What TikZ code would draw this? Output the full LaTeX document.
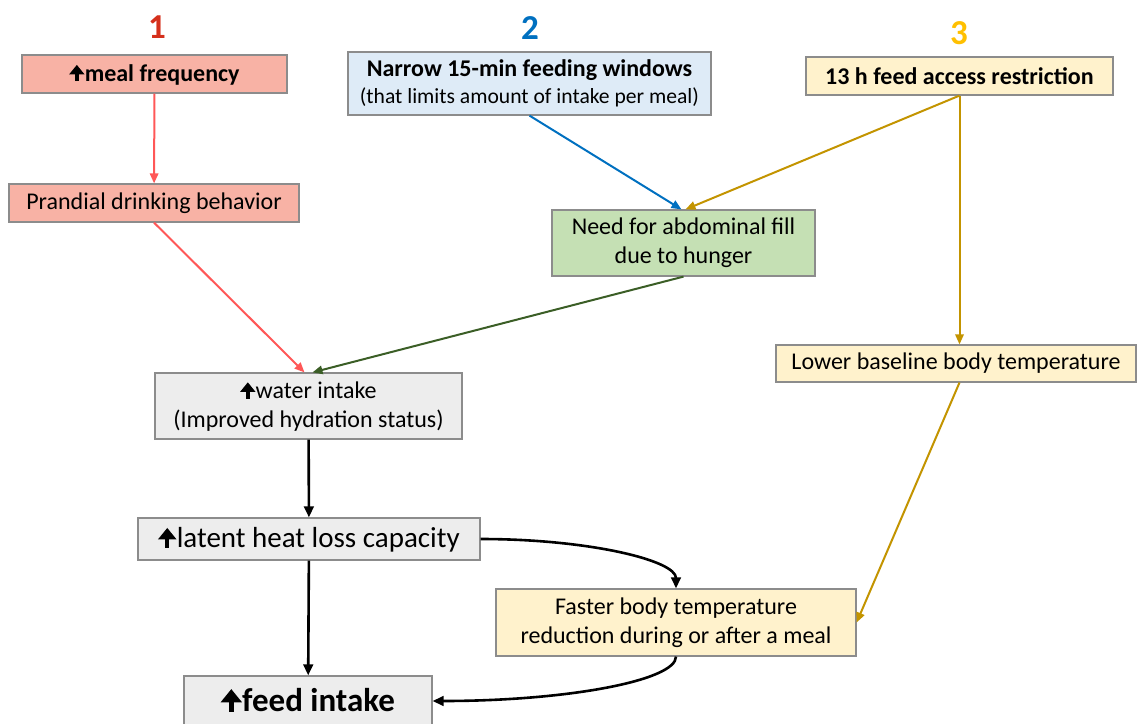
\documentclass[tikz,border=0pt]{standalone}
\usepackage{fontspec}
\setmainfont{Carlito}
\usetikzlibrary{arrows.meta,positioning}
\definecolor{Edge}{HTML}{8C8C8C}
\definecolor{Salmon}{HTML}{F8B2A5}
\definecolor{Ice}{HTML}{DEEBF7}
\definecolor{Cream}{HTML}{FFF2CC}
\definecolor{Leaf}{HTML}{C5E0B4}
\definecolor{Fog}{HTML}{EDEDED}
\definecolor{NumRed}{HTML}{D5301C}
\definecolor{NumBlue}{HTML}{0070C0}
\definecolor{NumGold}{HTML}{FFC000}
\definecolor{LineRed}{HTML}{FF5757}
\definecolor{LineBlue}{HTML}{0070C0}
\definecolor{LineGold}{HTML}{C39400}
\definecolor{LineGreen}{HTML}{3B5E26}
\newcommand{\uparr}{\tikz[baseline=0pt]\draw[draw=black,fill=black,line width=.15em,-{Triangle[width=.62em,length=.4em]}] (0,0) -- (0,.68em);\kern.02em}

\begin{document}
\begin{tikzpicture}[x=0.5pt,y=-0.5pt,
  every node/.style={font=\fontsize{12}{14.5}\selectfont,align=center},
  box/.style={draw=Edge,line width=0.6pt,inner sep=0pt},
  num/.style={font=\fontsize{17.5}{20}\selectfont\bfseries},
  arr/.style={-{Triangle[length=5pt,width=4.2pt]},line width=1pt},
  barr/.style={-{Triangle[length=5.5pt,width=4.8pt]},line width=1.3pt,black}
]
  \useasboundingbox (0,0) rectangle (1137,724);
  % three causes
  \node[num,text=NumRed] (one) at (157,27) {1};
  \node[num,text=NumBlue] (two) at (530,28) {2};
  \node[num,text=NumGold] (three) at (959,33) {3};
  \node[box,fill=Salmon,minimum width=132.5pt,minimum height=19pt] (freq) at (154.5,74) {\bfseries\uparr meal frequency};
  \node[box,fill=Salmon,minimum width=145pt,minimum height=19pt] (prandial) at (154,203) {Prandial drinking behavior};
  \node[box,fill=Ice,minimum width=181.5pt,minimum height=31.5pt] (window) at (529.5,83.5) {\textbf{Narrow 15-min feeding windows}\\[-1pt]{\fontsize{10.8}{13}\selectfont (that limits amount of intake per meal)}};
  \node[box,fill=Cream,minimum width=153.5pt,minimum height=19pt] (restrict) at (959.5,76) {\bfseries 13 h feed access restriction};
  \node[box,fill=Leaf,minimum width=131.5pt,minimum height=33pt] (fill) at (683.5,243) {Need for abdominal fill\\due to hunger};
  \node[box,fill=Cream,minimum width=180pt,minimum height=18.5pt] (baseline) at (956,363.5) {Lower baseline body temperature};
  % common pathway
  \node[box,fill=Fog,minimum width=153.5pt,minimum height=33pt] (water) at (308.5,406) {\uparr water intake\\(Improved hydration status)};
  \node[box,fill=Fog,minimum width=171pt,minimum height=21pt,font=\fontsize{14.5}{17}\selectfont] (latent) at (309,539) {\uparr latent heat loss capacity};
  \node[box,fill=Cream,minimum width=180pt,minimum height=33.5pt] (faster) at (676,622.5) {Faster body temperature\\reduction during or after a meal};
  \node[box,fill=Fog,minimum width=124pt,minimum height=32pt,text height=11.5pt,text depth=8pt,font=\fontsize{16.5}{19}\selectfont\bfseries] (feed) at (308,708) {\uparr feed intake};
  \draw[arr,LineRed] (freq) -- (prandial);
  \draw[arr,LineRed] (prandial.south) -- ([xshift=-2pt]water.north);
  \draw[arr,LineBlue] (window.south) -- ([xshift=-1pt]fill.north);
  \draw[arr,LineGold] (restrict.south) -- ([xshift=1pt]fill.north);
  \draw[arr,LineGold] (restrict.south) -- (restrict.south |- baseline.north);
  \draw[arr,LineGold] (restrict.south |- baseline.south) -- (faster.east);
  \draw[arr,LineGreen] (fill.south) -- ([xshift=2pt]water.north);
  \draw[barr] (water) -- (latent);
  \draw[barr] (latent) -- (feed);
  \draw[barr] (latent.east) to[out=0,in=90,out distance=54pt,in distance=14pt] (faster.north);
  \draw[barr] (faster.south) to[out=-90,in=0,out distance=12pt,in distance=67pt] ([yshift=3.5pt]feed.east);
\end{tikzpicture}
\end{document}
